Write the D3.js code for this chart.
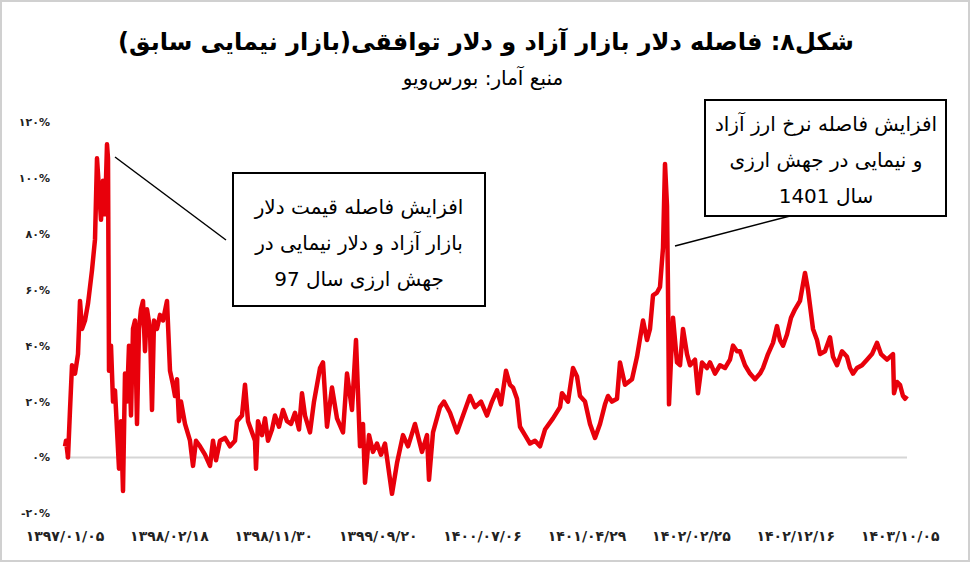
<!DOCTYPE html>
<html><head><meta charset="utf-8">
<script src="https://cdn.jsdelivr.net/npm/d3@7"></script>
<style>body{margin:0;background:#fff}svg{display:block}</style>
</head><body><svg id="c" width="971" height="563"></svg>
<script>
const obsIndex=[0,1,3,5,7,10,13,15,17,20,23,27,30,32,34,36,38,40,42,43,44,46,48,50,52,54,56,58,60,62,64,66,68,70,72,74,76,78,80,82,85,87,89,92,95,98,102,105,108,110,112,114,116,120,125,128,131,135,140,145,148,151,155,160,165,170,172,177,180,183,190,191,193,197,200,203,207,210,214,218,222,226,230,234,237,240,245,249,255,258,262,267,272,278,282,287,291,295,298,300,304,308,312,316,320,327,332,338,343,350,357,362,364,368,375,379,385,392,398,405,410,416,422,427,432,436,441,445,448,452,455,460,465,470,475,480,488,495,497,503,508,512,515,520,525,530,535,540,543,547,552,555,560,567,572,578,582,585,588,592,595,598,600,602,603,604,606,608,612,615,618,622,625,630,633,637,642,645,650,655,660,665,668,672,675,680,685,690,695,698,703,708,712,715,718,722,726,730,735,740,743,748,752,755,760,765,768,772,777,782,785,788,792,797,802,807,812,816,822,828,829,832,835,838,840,842];
const gapValues=[4,6,0,17,33,30,37,56,46,49,55,67,78,107,96,85,99,87,112,107,31,40,20,24,10,-4,13,-12,30,20,40,15,46,49,12,46,53,56,38,53,46,17,49,46,51,49,56,31,26,22,28,13,20,12,6,-3,6,4,1,-3,6,-1,6,7,4,6,13,15,26,13,6,-4,13,8,14,6,10,15,11,17,13,12,16,10,23,15,9,20,32,34,11,25,14,9,30,17,42,4,12,-9,8,2,5,1,5,-13,-2,8,4,12,2,8,-8,9,18,20,16,9,15,22,18,20,15,20,24,19,31,26,25,21,11,8,5,6,4,10,14,18,23,20,32,29,22,20,12,7,12,19,22,20,21,34,26,28,36,49,42,46,58,59,61,75,105,90,60,19,35,50,34,33,46,37,33,35,23,34,32,34,30,33,32,35,40,38,38,33,30,28,30,32,37,41,47,42,40,44,50,53,56,66,60,46,42,37,38,43,36,33,38,36,32,30,32,33,35,37,41,37,35,37,23,27,26,22,21,22];
const tickLabels=["۱۳۹۷/۰۱/۰۵","۱۳۹۸/۰۲/۱۸","۱۳۹۸/۱۱/۳۰","۱۳۹۹/۰۹/۲۰","۱۴۰۰/۰۷/۰۶","۱۴۰۱/۰۴/۲۹","۱۴۰۲/۰۲/۲۵","۱۴۰۲/۱۲/۱۶","۱۴۰۳/۱۰/۰۵"];
const yTicks=[-20,0,20,40,60,80,100,120];
const fa=n=>String(n).replace(/\d/g,d=>"۰۱۲۳۴۵۶۷۸۹"[d]);

const svg=d3.select("#c");
const F="'DejaVu Sans','Noto Sans',sans-serif";
svg.append("rect").attr("x",1).attr("y",1).attr("width",968).attr("height",560).attr("fill","#fff").attr("stroke","#d0d0d0").attr("stroke-width",2);
const x=d3.scaleLinear().domain([0,842]).range([65,907]);
const y=d3.scaleLinear().domain([-20,120]).range([513.4,122]);
const step=104.4;
svg.append("line").attr("x1",x(0)).attr("x2",x(842)).attr("y1",y(0)).attr("y2",y(0)).attr("stroke","#d6d6d6").attr("stroke-width",2);
svg.append("g").selectAll("text").data(yTicks).join("text")
 .attr("x",50).attr("y",d=>y(d)+4).attr("text-anchor","end").attr("font-family",F).attr("font-weight","bold").attr("font-size",11).attr("fill","#222")
 .text(d=>(d<0?"-":"")+fa(Math.abs(d))+"%");
svg.append("g").selectAll("text").data(tickLabels).join("text")
 .attr("x",(d,i)=>x(i*step)).attr("y",541).attr("text-anchor","middle").attr("font-family",F).attr("font-weight","bold").attr("font-size",14).attr("fill","#222").text(d=>d);
const pts=obsIndex.map((t,i)=>[t,gapValues[i]]);
svg.append("path").datum(pts).attr("d",d3.line().x(d=>x(d[0])).y(d=>y(d[1])))
 .attr("fill","none").attr("stroke","#e8000b").attr("stroke-width",4.5).attr("stroke-linejoin","round");
svg.append("text").attr("x",486).attr("y",50).attr("text-anchor","middle").attr("font-family",F).attr("font-weight","bold").attr("font-size",24).attr("direction","rtl").text("شکل۸: فاصله دلار بازار آزاد و دلار توافقی(بازار نیمایی سابق)");
svg.append("text").attr("x",483).attr("y",85).attr("text-anchor","middle").attr("font-family",F).attr("font-size",20).attr("direction","rtl").text("منبع آمار: بورس‌ویو");
// annotations
svg.append("line").attr("x1",226).attr("y1",240).attr("x2",115).attr("y2",157).attr("stroke","#000").attr("stroke-width",1.5);
svg.append("rect").attr("x",233).attr("y",173).attr("width",252).attr("height",133).attr("fill","#fff").attr("stroke","#000").attr("stroke-width",2);
["افزایش فاصله قیمت دلار","بازار آزاد و دلار نیمایی در","جهش ارزی سال 97"].forEach((t,i)=>
 svg.append("text").attr("x",359).attr("y",214+i*36).attr("text-anchor","middle").attr("font-family",F).attr("font-size",20).attr("direction","rtl").text(t));
svg.append("line").attr("x1",790).attr("y1",216).attr("x2",675).attr("y2",246).attr("stroke","#000").attr("stroke-width",1.5);
svg.append("rect").attr("x",705).attr("y",100).attr("width",241).attr("height",116).attr("fill","#fff").attr("stroke","#000").attr("stroke-width",2);
["افزایش فاصله نرخ ارز آزاد","و نیمایی در جهش ارزی","سال 1401"].forEach((t,i)=>
 svg.append("text").attr("x",826).attr("y",131+i*36).attr("text-anchor","middle").attr("font-family",F).attr("font-size",20).attr("direction","rtl").text(t));
</script></body></html>
